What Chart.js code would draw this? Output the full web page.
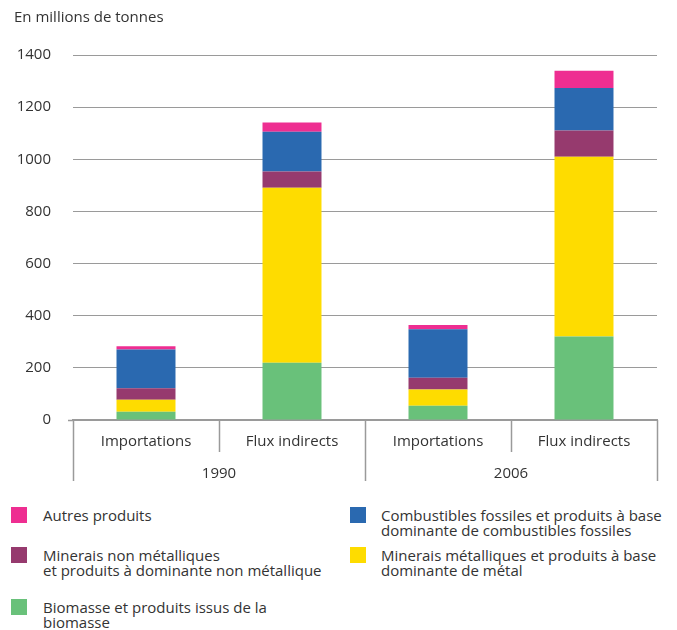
<!DOCTYPE html>
<html lang="fr">
<head>
<meta charset="utf-8">
<title>Flux de matières</title>
<script src="https://cdn.jsdelivr.net/npm/chart.js@4/dist/chart.umd.min.js"></script>
<style>
  html, body { margin: 0; padding: 0; background: #fff; }
  #wrap { position: relative; width: 677px; height: 630px; overflow: hidden; }
  #chart { position: absolute; left: 0; top: 0; }
  #legend {
    position: absolute; left: 11px; top: 507px;
    display: grid;
    grid-template-columns: 339px 320px;
    grid-template-rows: 40px 52px auto;
    font-family: 'Open Sans', sans-serif; font-size: 15px; color: #333;
  }
  .item { display: flex; align-items: flex-start; }
  .sw { width: 16px; height: 16px; flex: none; margin-right: 16px; }
  .item:nth-child(even) .sw { margin-right: 15px; }
  .txt { line-height: 15px; margin-top: 1px; white-space: nowrap; }
</style>
</head>
<body>
<div id="wrap">
  <canvas id="chart" width="677" height="490"></canvas>
  <div id="legend"></div>
</div>
<script>
// Catégories (niveau 1) et années (niveau 2)
const categories = ['Importations', 'Flux indirects', 'Importations', 'Flux indirects'];
const years = ['1990', '2006'];

// Valeurs en millions de tonnes, dans l'ordre des catégories
const biomasse = [32, 220, 55, 320];
const mineraisMetal = [46, 671, 62, 690];
const mineraisNonMetal = [44, 62, 45, 100];
const combustibles = [148, 153, 186, 163];
const autres = [13, 35, 16, 67];

// Libellés de la légende (une ligne par élément)
const labelBiomasse = ['Biomasse et produits issus de la', 'biomasse'];
const labelMetal = ['Minerais métalliques et produits à base', 'dominante de métal'];
const labelNonMetal = ['Minerais non métalliques', 'et produits à dominante non métallique'];
const labelCombustibles = ['Combustibles fossiles et produits à base', 'dominante de combustibles fossiles'];
const labelAutres = ['Autres produits'];

const FONT = "'Open Sans', sans-serif";
const TEXT = '#333333';
const GRID = '#9a9a9a';

Chart.defaults.font.family = FONT;
Chart.defaults.font.size = 15;
Chart.defaults.color = TEXT;

function series(label, data, color) {
  return {
    label: label,
    data: data,
    backgroundColor: color,
    borderWidth: 0,
    barPercentage: 0.404,
    categoryPercentage: 1,
    xAxisID: 'x',
    yAxisID: 'y'
  };
}

const datasets = [
  series(labelBiomasse, biomasse, '#69c17a'),
  series(labelMetal, mineraisMetal, '#fedc00'),
  series(labelNonMetal, mineraisNonMetal, '#963a6e'),
  series(labelCombustibles, combustibles, '#2a69b0'),
  series(labelAutres, autres, '#ee2e91')
];

// Séparateurs verticaux de l'axe à deux niveaux : courts entre catégories,
// longs entre années (bornes calculées à partir des échelles x et x2)
const axisDividers = {
  id: 'axisDividers',
  afterDraw(chart) {
    const x = chart.scales.x;
    const x2 = chart.scales.x2;
    const ctx = chart.ctx;
    const perGroup = categories.length / years.length;
    const half = (x.getPixelForTick(1) - x.getPixelForTick(0)) / 2;
    ctx.save();
    ctx.strokeStyle = GRID;
    ctx.lineWidth = 1.5;
    for (let i = 0; i <= categories.length; i++) {
      const px = i < categories.length ? x.getPixelForTick(i) - half : x.getPixelForTick(i - 1) + half;
      const bottom = (i % perGroup === 0) ? x2.bottom - 1 : x.bottom;
      ctx.beginPath();
      ctx.moveTo(Math.round(px) + 0.5, x.top);
      ctx.lineTo(Math.round(px) + 0.5, bottom);
      ctx.stroke();
    }
    ctx.restore();
  }
};

const chart = new Chart(document.getElementById('chart'), {
  type: 'bar',
  data: { labels: categories, datasets: datasets },
  plugins: [axisDividers],
  options: {
    responsive: false,
    animation: false,
    events: [],
    layout: { padding: { left: 14, right: 20, top: 0, bottom: 8 } },
    plugins: {
      legend: { display: false },
      tooltip: { enabled: false },
      title: {
        display: true,
        text: 'En millions de tonnes',
        align: 'start',
        color: TEXT,
        font: { family: FONT, size: 15, weight: 'normal' },
        padding: { top: 9, bottom: 28 }
      }
    },
    scales: {
      x: {
        stacked: true,
        offset: true,
        weight: 0,
        grid: { display: false, drawTicks: false, tickLength: 0 },
        border: { display: true, color: GRID, width: 1.5 },
        ticks: { padding: 13, color: TEXT, font: { size: 15 }, maxRotation: 0, autoSkip: false },
        afterFit(scale) { scale.height = 32; }
      },
      x2: {
        type: 'category',
        labels: years,
        position: 'bottom',
        offset: true,
        weight: 1,
        grid: { display: false, drawTicks: false, tickLength: 0 },
        border: { display: false },
        ticks: { padding: 13, color: TEXT, font: { size: 15 }, maxRotation: 0, autoSkip: false },
        afterFit(scale) { scale.height = 30; }
      },
      y: {
        stacked: true,
        min: 0,
        max: 1400,
        ticks: { stepSize: 200, padding: 17, color: TEXT, font: { size: 15 }, callback: v => String(v) },
        grid: {
          color: GRID,
          lineWidth: 1,
          drawTicks: true,
          tickLength: 5,
          // petit repère à gauche de la ligne du zéro uniquement
          tickColor: c => (c.tick && c.tick.value === 0 ? GRID : 'rgba(0,0,0,0)'),
          tickWidth: 1.5
        },
        border: { display: false },
        afterFit(scale) { scale.width = 59; }
      }
    }
  }
});

// Légende en deux colonnes, de l'élément du haut de la pile vers le bas
const legend = document.getElementById('legend');
chart.data.datasets.slice().reverse().forEach(ds => {
  const item = document.createElement('div');
  item.className = 'item';
  const sw = document.createElement('span');
  sw.className = 'sw';
  sw.style.background = ds.backgroundColor;
  const txt = document.createElement('span');
  txt.className = 'txt';
  ds.label.forEach((line, i) => {
    if (i) txt.appendChild(document.createElement('br'));
    txt.appendChild(document.createTextNode(line));
  });
  item.appendChild(sw);
  item.appendChild(txt);
  legend.appendChild(item);
});
</script>
</body>
</html>
